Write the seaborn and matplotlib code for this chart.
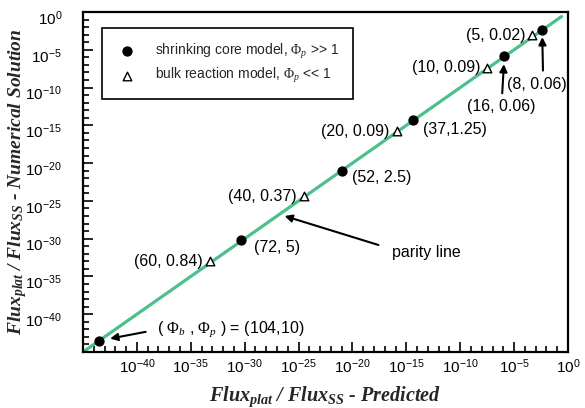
import numpy as np
import pandas as pd
import matplotlib
matplotlib.use("Agg")
import matplotlib.pyplot as plt
from matplotlib.ticker import FixedLocator, FixedFormatter, NullFormatter
from matplotlib.transforms import ScaledTranslation
import seaborn as sns

# ---- data (log10 of flux ratios) ----
core_labels = ["(104,10)", "(72, 5)", "(52, 2.5)", "(37,1.25)", "(16, 0.06)", "(8, 0.06)"]
core_pred_exp = [-43.5, -30.3, -21.0, -14.4, -5.9, -2.4]
core_num_exp = [-43.5, -30.2, -21.0, -14.3, -5.8, -2.4]

bulk_labels = ["(60, 0.84)", "(40, 0.37)", "(20, 0.09)", "(10, 0.09)", "(5, 0.02)"]
bulk_pred_exp = [-33.2, -24.5, -15.9, -7.5, -3.3]
bulk_num_exp = [-33.0, -24.4, -15.8, -7.4, -3.1]

parity_exp = [-45.0, -0.6]

major_exp = list(range(-40, 1, 5))
minor_exp = list(range(-45, 1))
tick_labels = [r"$\mathregular{10^{%d}}$" % e for e in major_exp]

sns.set_theme(style="ticks")
plt.rcParams["font.family"] = ["Liberation Sans", "DejaVu Sans"]
plt.rcParams["axes.unicode_minus"] = False
plt.rcParams["mathtext.fontset"] = "custom"
plt.rcParams["mathtext.rm"] = "Liberation Serif"
plt.rcParams["mathtext.it"] = "Liberation Serif:italic"
plt.rcParams["mathtext.bf"] = "Liberation Serif:bold:italic"

core = pd.DataFrame({"pred": 10.0 ** np.array(core_pred_exp),
                     "num": 10.0 ** np.array(core_num_exp), "label": core_labels})
bulk = pd.DataFrame({"pred": 10.0 ** np.array(bulk_pred_exp),
                     "num": 10.0 ** np.array(bulk_num_exp), "label": bulk_labels})
parity = pd.DataFrame({"x": 10.0 ** np.array(parity_exp), "y": 10.0 ** np.array(parity_exp)})

fig = plt.figure(figsize=(5.85, 4.08), dpi=100)
ax = fig.add_axes([83 / 585, 1 - 352 / 408, 485 / 585, 340 / 408])
ax.set_xscale("log")
ax.set_yscale("log")

green = "#4dbf8a"
sns.lineplot(data=parity, x="x", y="y", ax=ax, color=green, lw=2.3, zorder=2)
sns.scatterplot(data=core, x="pred", y="num", ax=ax, marker="o", s=55, color="black",
                edgecolor="black", linewidth=0, zorder=4,
                label=r"shrinking core model, $\Phi_{p}$ >> 1")
sns.scatterplot(data=bulk, x="pred", y="num", ax=ax, marker="^", s=38, facecolor="white",
                edgecolor="black", linewidth=1.0, zorder=4,
                label=r"bulk reaction model, $\Phi_{p}$ << 1")

ax.set_xlim(10.0 ** -45, 10.0 ** 0)
ax.set_ylim(10.0 ** -45, 10.0 ** 0)

for axis in (ax.xaxis, ax.yaxis):
    axis.set_major_locator(FixedLocator([10.0 ** e for e in major_exp]))
    axis.set_major_formatter(FixedFormatter(tick_labels))
    axis.set_minor_locator(FixedLocator([10.0 ** e for e in minor_exp]))
    axis.set_minor_formatter(NullFormatter())

ax.tick_params(which="both", direction="in", top=False, right=False, colors="black",
               width=1.2, labelsize=11)
ax.tick_params(which="major", length=7)
ax.tick_params(which="minor", length=4)
ax.tick_params(axis="y", pad=15)
ax.tick_params(axis="x", pad=4)
for sp in ax.spines.values():
    sp.set_linewidth(1.6)
    sp.set_color("black")

off = ScaledTranslation(0, -5 / 100, fig.dpi_scale_trans)
for lab in ax.get_yticklabels():
    lab.set_transform(lab.get_transform() + off)

lab_font = dict(family="Liberation Serif", weight="bold", style="italic")
ax.set_xlabel(r"$\mathbf{Flux_{plat}\ /\ Flux_{SS}}$ - Predicted", fontsize=14.5,
              labelpad=6, **lab_font)
ax.set_ylabel(r"$\mathbf{Flux_{plat}\ /\ Flux_{SS}}$ - Numerical Solution", fontsize=14,
              **lab_font)
ax.yaxis.set_label_coords(-0.112, 0.5)

leg = ax.legend(loc="upper left", bbox_to_anchor=(0.039, 0.953), borderaxespad=0,
                fontsize=10, frameon=True, fancybox=False, edgecolor="black",
                borderpad=1.0, labelspacing=0.4, handletextpad=1.2, handlelength=1.6)
leg.get_frame().set_linewidth(1.2)
leg.get_frame().set_alpha(1)

txt = dict(fontsize=11.5, color="black")
arrow = dict(arrowstyle="-|>", color="black", lw=1.5, mutation_scale=11)

def px(v):
    return 10.0 ** v

# annotations for bulk model points (text left of marker)
for i, r in bulk.iterrows():
    ax.annotate(r["label"], xy=(r["pred"], r["num"]), xytext=(-7, 0),
                textcoords="offset pixels", ha="right", va="center", **txt)

# annotations for core model points (text right-below)
core_offsets = {1: (13, -7), 2: (10, -7), 3: (10, -9)}
for i, (dx, dy) in core_offsets.items():
    r = core.iloc[i]
    ax.annotate(r["label"], xy=(r["pred"], r["num"]), xytext=(dx, dy),
                textcoords="offset pixels", ha="left", va="center", **txt)

r = core.iloc[4]
ax.annotate(r["label"], xy=(r["pred"], r["num"]), xytext=(-3, -51),
            textcoords="offset pixels", ha="center", va="center",
            arrowprops=dict(shrinkA=2, shrinkB=6, **arrow), **txt)
r = core.iloc[5]
ax.annotate(r["label"], xy=(r["pred"], r["num"]), xytext=(-5, -54),
            textcoords="offset pixels", ha="center", va="center",
            arrowprops=dict(shrinkA=2, shrinkB=5, relpos=(0.6, 1.0), **arrow), **txt)

r = core.iloc[0]
ax.annotate(r"( $\Phi_{b}$ , $\Phi_{p}$ ) = (104,10)", xy=(r["pred"], r["num"]), xytext=(58, 11),
            textcoords="offset pixels", ha="left", va="center",
            arrowprops=dict(shrinkA=6, shrinkB=8, relpos=(0, 0.5), **arrow), **txt)

ax.annotate("parity line", xy=(px(-26.3), px(-27.0)), xytext=(px(-16.3), px(-31.8)),
            textcoords="data", ha="left", va="center",
            arrowprops=dict(shrinkA=8, shrinkB=0, relpos=(0, 0.7), **arrow), **txt)

fig.savefig("out.png", dpi=100)
